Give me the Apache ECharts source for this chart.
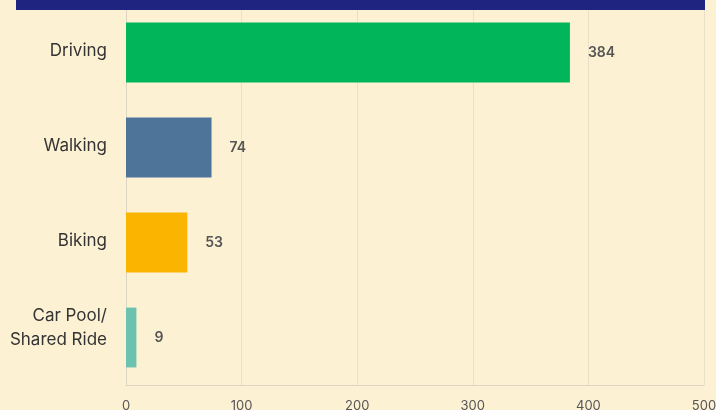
<!DOCTYPE html>
<html><head><meta charset="utf-8">
<script src="https://cdn.jsdelivr.net/npm/echarts@6/dist/echarts.min.js"></script>
<style>html,body{margin:0;padding:0;background:#FDF1D4;}#c{width:716px;height:410px;}</style>
</head><body><div id="c"></div>
<script>
const categories = ['Driving', 'Walking', 'Biking', 'Car Pool/\nShared Ride'];
const values = [384, 74, 53, 9];
const colors = ['#00B55A', '#4F7499', '#FBB400', '#6CC2AE'];
const xTicks = [0, 100, 200, 300, 400, 500];

const chart = echarts.init(document.getElementById('c'));
chart.setOption({
  backgroundColor: '#FDF1D4',
  animation: false,
  graphic: [{type: 'rect', shape: {x: 16, y: 0, width: 689, height: 10}, style: {fill: '#1F2480'}, z: 100}],
  grid: {left: 126, right: 12, top: 5, bottom: 25, containLabel: false, outerBoundsMode: 'none'},
  xAxis: {
    type: 'value', min: xTicks[0], max: xTicks[xTicks.length - 1], interval: 100,
    axisLine: {show: true, lineStyle: {color: '#DDD6C4'}},
    axisTick: {show: false},
    splitLine: {show: true, lineStyle: {color: '#EAE0C8'}},
    axisLabel: {color: '#555', fontSize: 13, fontFamily: 'Inter', margin: 15, hideOverlap: false}
  },
  yAxis: {
    type: 'category', inverse: true, data: categories,
    axisLine: {show: true, lineStyle: {color: '#DDD6C4'}},
    axisTick: {show: false},
    axisLabel: {
      color: '#333', fontSize: 17, fontFamily: 'Inter', margin: 19, lineHeight: 24, align: 'right',
      formatter: v => v.indexOf('\n') >= 0
        ? v.split('\n').map(s => '{a|' + s + '}').join('\n') + '\n{pad|}'
        : '{b|' + v + '}',
      rich: {
        a: {fontSize: 17, fontFamily: 'Inter', color: '#333', lineHeight: 24, align: 'right'},
        b: {fontSize: 17, fontFamily: 'Inter', color: '#333', lineHeight: 24, align: 'right', padding: [0, 0, 3, 0]},
        pad: {fontSize: 1, lineHeight: 20, height: 20}
      }
    }
  },
  series: [{
    type: 'bar',
    data: values.map((v, i) => ({value: v, itemStyle: {color: colors[i]}})),
    barCategoryGap: '37%',
    label: {show: true, position: 'right', distance: 18, color: '#555', fontWeight: 600, fontSize: 14, fontFamily: 'Inter', padding: [4, 0, 0, 0]}
  }]
});
</script></body></html>
